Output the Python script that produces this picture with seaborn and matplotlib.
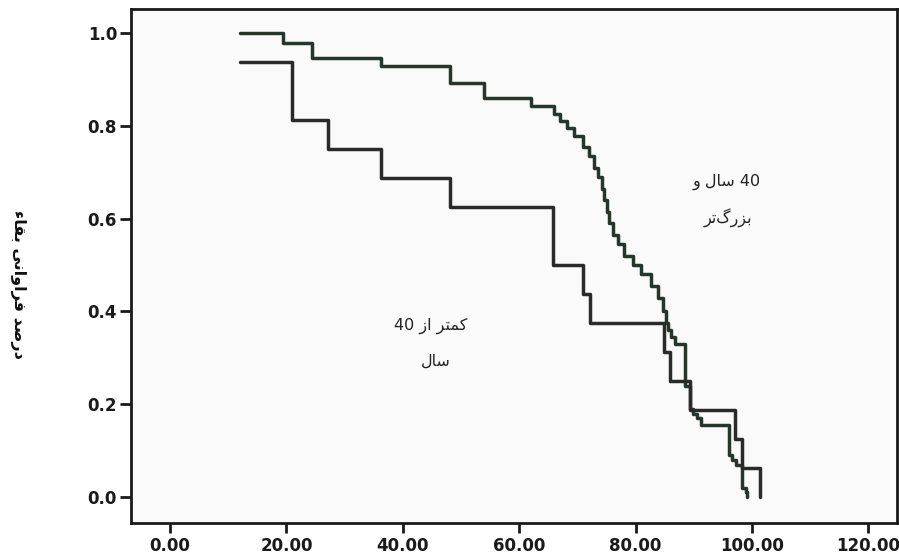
import matplotlib
matplotlib.use("Agg")
import matplotlib.pyplot as plt
import seaborn as sns
import pandas as pd

# ---------------- data ----------------
# group "40 years and older"
upper_time = [12.0, 19.4, 24.4, 36.3, 48.1, 54.0, 62.0, 66.0, 67.0, 68.2, 69.4,
              70.9, 72.0, 72.9, 73.6, 74.2, 74.6, 75.0, 75.4, 76.1, 77.0, 78.0,
              79.5, 81.0, 82.6, 83.8, 84.7, 85.2, 85.6, 86.1, 86.7, 88.4, 89.3,
              89.8, 90.5, 91.3, 96.1, 96.6, 97.3, 98.2, 98.9, 99.2]
upper_surv = [1.0, 0.978, 0.946, 0.929, 0.892, 0.860, 0.843, 0.825, 0.81, 0.795, 0.778,
              0.755, 0.735, 0.71, 0.69, 0.665, 0.64, 0.615, 0.59, 0.565, 0.545, 0.52,
              0.50, 0.48, 0.455, 0.43, 0.40, 0.375, 0.36, 0.345, 0.33, 0.24, 0.19,
              0.18, 0.17, 0.155, 0.09, 0.08, 0.07, 0.02, 0.01, 0.0]
# group "less than 40"
lower_time = [12.0, 21.0, 27.1, 36.3, 48.1, 65.8, 71.0, 72.2, 84.9, 85.9, 89.3,
              97.1, 98.3, 101.4]
lower_surv = [0.9375, 0.8125, 0.75, 0.6875, 0.625, 0.5, 0.4375, 0.375, 0.3125,
              0.25, 0.1875, 0.125, 0.0625, 0.0]

x_ticks = [0, 20, 40, 60, 80, 100, 120]
y_ticks = [0.0, 0.2, 0.4, 0.6, 0.8, 1.0]
y_label = "درصد فراوانی بقاء"
label_upper = ["40 سال و", "بزرگ\u200cتر"]
label_lower = ["کمتر از 40", "سال"]

# ---------------- minimal Arabic/Persian shaping ----------------
# (isolated, final, initial, medial)
FORMS = {
    "ا": ("\uFE8D", "\uFE8E", None, None),
    "ب": ("\uFE8F", "\uFE90", "\uFE91", "\uFE92"),
    "ت": ("\uFE95", "\uFE96", "\uFE97", "\uFE98"),
    "د": ("\uFEA9", "\uFEAA", None, None),
    "ر": ("\uFEAD", "\uFEAE", None, None),
    "ز": ("\uFEAF", "\uFEB0", None, None),
    "س": ("\uFEB1", "\uFEB2", "\uFEB3", "\uFEB4"),
    "ص": ("\uFEB9", "\uFEBA", "\uFEBB", "\uFEBC"),
    "ف": ("\uFED1", "\uFED2", "\uFED3", "\uFED4"),
    "ق": ("\uFED5", "\uFED6", "\uFED7", "\uFED8"),
    "ل": ("\uFEDD", "\uFEDE", "\uFEDF", "\uFEE0"),
    "م": ("\uFEE1", "\uFEE2", "\uFEE3", "\uFEE4"),
    "ن": ("\uFEE5", "\uFEE6", "\uFEE7", "\uFEE8"),
    "و": ("\uFEED", "\uFEEE", None, None),
    "ء": ("\uFE80", None, None, None),
    "ی": ("\uFBFC", "\uFBFD", "\uFBFE", "\uFBFF"),
    "ک": ("\uFB8E", "\uFB8F", "\uFB90", "\uFB91"),
    "گ": ("\uFB92", "\uFB93", "\uFB94", "\uFB95"),
}


def _dual(c):
    return c in FORMS and FORMS[c][2] is not None


def _joins_prev(c):
    return c in FORMS and FORMS[c][1] is not None


def shape_word(w):
    out = []
    for i, c in enumerate(w):
        if c not in FORMS:
            if c != "\u200c":
                out.append(c)
            continue
        prev = w[i - 1] if i > 0 else ""
        nxt = w[i + 1] if i + 1 < len(w) else ""
        jp = _dual(prev) and _joins_prev(c)
        jn = _dual(c) and _joins_prev(nxt)
        iso, fin, ini, med = FORMS[c]
        if jp and jn:
            out.append(med)
        elif jp:
            out.append(fin)
        elif jn:
            out.append(ini)
        else:
            out.append(iso)
    return "".join(reversed(out))


def rtl(s):
    toks = s.split(" ")
    vis = [t if t.isdigit() else shape_word(t) for t in toks]
    return " ".join(reversed(vis))


# ---------------- figure ----------------
sns.set_theme(style="ticks")
plt.rcParams["font.family"] = ["DejaVu Sans"]

fig = plt.figure(figsize=(8.99, 5.56), dpi=100)
ax = fig.add_axes([131 / 899, 1 - 523 / 556, (897 - 131) / 899, (523 - 9) / 556])
ax.set_facecolor("#fafafa")

df_u = pd.DataFrame({"time": upper_time, "surv": upper_surv})
df_l = pd.DataFrame({"time": lower_time, "surv": lower_surv})
sns.lineplot(data=df_u, x="time", y="surv", drawstyle="steps-post", estimator=None,
             sort=False, color="#25362b", linewidth=2.5, ax=ax)
sns.lineplot(data=df_l, x="time", y="surv", drawstyle="steps-post", estimator=None,
             sort=False, color="#2a2a2a", linewidth=2.5, ax=ax)

ax.set_xlim(-6.7, 124.9)
ax.set_ylim(-0.056, 1.052)
ax.set_xticks(x_ticks)
ax.set_xticklabels([f"{v:.2f}" for v in x_ticks])
ax.set_yticks(y_ticks)
ax.set_yticklabels([f"{v:.1f}" for v in y_ticks])
ax.set_xlabel("")
ax.set_ylabel("")

for sp in ax.spines.values():
    sp.set_visible(True)
    sp.set_linewidth(2.0)
    sp.set_color("#1a1a1a")

ax.tick_params(axis="x", direction="out", length=7, width=2, pad=3,
               labelsize=12, colors="#1a1a1a")
ax.tick_params(axis="y", direction="out", length=8, width=2, pad=2,
               labelsize=12, colors="#1a1a1a")
for lab in ax.get_xticklabels() + ax.get_yticklabels():
    lab.set_fontweight("bold")

# group annotations
txt_kw = dict(ha="center", va="center", fontsize=11.5, color="#222222")
ax.text(95.6, 0.679, rtl(label_upper[0]), **txt_kw)
ax.text(95.8, 0.601, rtl(label_upper[1]), **txt_kw)
ax.text(44.8, 0.369, rtl(label_lower[0]), **txt_kw)
ax.text(45.7, 0.293, rtl(label_lower[1]), **txt_kw)

# y axis title (rotated, reading top to bottom)
fig.text(18 / 899, 1 - 284 / 556, rtl(y_label), rotation=270, ha="center",
         va="center", fontsize=11.5, fontweight="bold", color="#111111")

fig.savefig("out.png", dpi=100, facecolor="white")
